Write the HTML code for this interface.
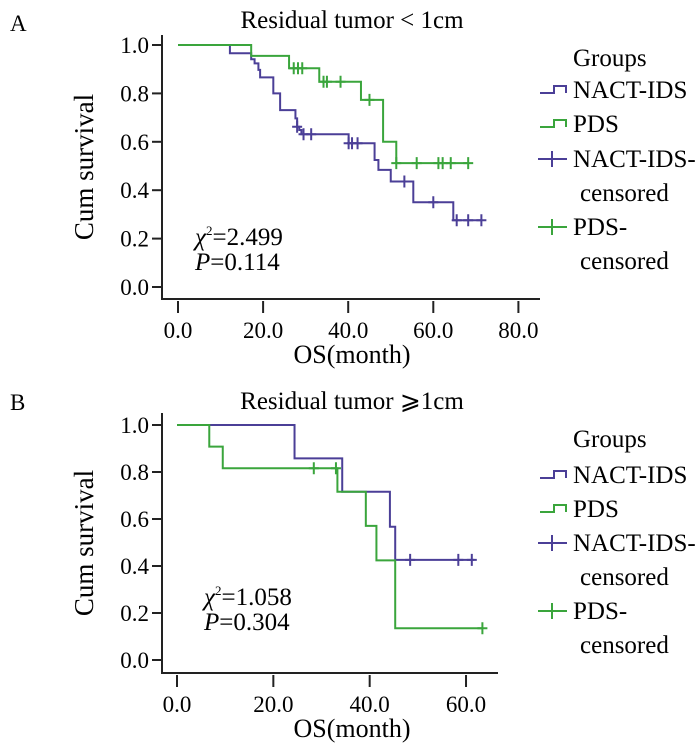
<!DOCTYPE html>
<html><head><meta charset="utf-8"><style>
html,body{margin:0;padding:0;background:#fff;}
svg{display:block;font-family:"Liberation Serif","Noto Serif CJK SC",serif;}
</style></head><body>
<svg id="svg" width="700" height="748" viewBox="0 0 700 748" xmlns="http://www.w3.org/2000/svg">
<g id="panelA"></g>
<g id="panelB"></g>
</svg>
<script>
// Panel A data (months, survival)
const axTicksA = [0, 20, 40, 60, 80];
const aTickLabels = ["0.0", "20.0", "40.0", "60.0", "80.0"];
const yTicks = [0, 0.2, 0.4, 0.6, 0.8, 1.0];
const yTickLabels = ["0.0", "0.2", "0.4", "0.6", "0.8", "1.0"];
const aNactTimes = [0, 12.2, 17.2, 18.0, 18.9, 19.3, 22.4, 24.0, 27.6, 28.0, 28.5, 29.0, 40.1, 46.2, 47.1, 50.0, 55.3, 64.7];
const aNactSurv  = [1.0, 0.966, 0.941, 0.924, 0.897, 0.866, 0.80, 0.731, 0.697, 0.662, 0.649, 0.631, 0.594, 0.525, 0.484, 0.436, 0.35, 0.276];
const aNactEnd = 71.3;
const aNactCensT = [28.0, 29.5, 31.3, 40.1, 40.9, 42.2, 53.2, 60.0, 65.5, 68.2, 71.3];
const aPdsTimes = [0, 17.2, 26.1, 33.2, 43.0, 48.2, 51.3];
const aPdsSurv  = [1.0, 0.955, 0.904, 0.848, 0.773, 0.60, 0.512];
const aPdsEnd = 68.2;
const aPdsCensT = [27.2, 28.2, 29.2, 34.2, 35.0, 38.2, 45.0, 51.3, 56.1, 61.2, 62.2, 64.1, 68.2];
// Panel B data
const bxTicks = [0, 20, 40, 60];
const bTickLabels = ["0.0", "20.0", "40.0", "60.0"];
const bNactTimes = [0, 24.4, 34.3, 44.2, 45.3];
const bNactSurv  = [1.0, 0.858, 0.716, 0.567, 0.426];
const bNactEnd = 61.7;
const bNactCensT = [48.4, 58.4, 61.2];
const bPdsTimes = [0, 6.7, 9.5, 33.3, 39.2, 41.4, 45.3];
const bPdsSurv  = [1.0, 0.908, 0.816, 0.716, 0.571, 0.424, 0.135];
const bPdsEnd = 63.4;
const bPdsCensT = [28.4, 33.0, 63.4];

const NS = "http://www.w3.org/2000/svg";
const BLUE = "#4b3f97", GREEN = "#3aa53c";
function mk(parent, tag, attrs, text){
  const e = document.createElementNS(NS, tag);
  for (const k in attrs) e.setAttribute(k, attrs[k]);
  if (text !== undefined) e.textContent = text;
  parent.appendChild(e);
  return e;
}
function survAt(times, surv, t){
  let s = surv[0];
  for (let i = 0; i < times.length; i++) if (times[i] <= t) s = surv[i];
  return s;
}
function panel(g, cfg){
  const X = v => cfg.x0 + v * cfg.xs;
  const Y = v => cfg.y0 - v * cfg.ys;
  let t = mk(g, "text", {x: 10, y: cfg.letterY, "font-size": 23});
  t.textContent = cfg.letter;
  
  
  t = mk(g, "text", {x: 352, y: cfg.titleY, "font-size": 25, "text-anchor": "middle"}, cfg.title);
  
  
  let a = mk(g, "path", {d: `M${cfg.axX},${cfg.axTop} V${cfg.axY} H${cfg.axRight}`, fill: "none", stroke: "#222", "stroke-width": 2});
  
  
  yTicks.forEach((v, i) => {
    const tk = mk(g, "line", {x1: cfg.axX - 10, x2: cfg.axX, y1: Y(v), y2: Y(v), stroke: "#222", "stroke-width": 2});
    
    
    const lb = mk(g, "text", {x: cfg.axX - 13, y: Y(v) + 8, "font-size": 23, "text-anchor": "end"}, yTickLabels[i]);
    
    
  });
  cfg.xt.forEach((v, i) => {
    const tk = mk(g, "line", {x1: X(v), x2: X(v), y1: cfg.axY + 2, y2: cfg.axY + 14, stroke: "#222", "stroke-width": 2});
    
    
    const lb = mk(g, "text", {x: X(v), y: cfg.axY + 39, "font-size": 23, "text-anchor": "middle"}, cfg.xl[i]);
    
    
  });
  t = mk(g, "text", {x: 352, y: cfg.axY + 64, "font-size": 26, "text-anchor": "middle"}, "OS(month)");
  
  
  const cy = (cfg.axTop + cfg.axY) / 2;
  t = mk(g, "text", {x: 0, y: 0, "font-size": 27, "text-anchor": "middle", transform: `translate(93,${cy}) rotate(-90)`}, "Cum survival");
  
  
  t = mk(g, "text", {x: cfg.statX, y: cfg.statY, "font-size": 25});
  t.innerHTML = '<tspan font-style="italic">χ</tspan><tspan font-size="13" dy="-10">2</tspan><tspan dy="10">=' + cfg.chi + '</tspan>';
  
  
  t = mk(g, "text", {x: cfg.statX, y: cfg.statY + 25, "font-size": 25});
  t.innerHTML = '<tspan font-style="italic">P</tspan>=' + cfg.p;
  
  
  cfg.series.forEach(s => {
    let d = `M${X(s.times[0])},${Y(s.surv[0])}`;
    for (let i = 1; i < s.times.length; i++) d += ` H${X(s.times[i])} V${Y(s.surv[i])}`;
    d += ` H${X(s.end)}`;
    const p = mk(g, "path", {d, fill: "none", stroke: s.color, "stroke-width": 2});
    
    
    s.cens.forEach(ct => {
      const yy = Y(survAt(s.times, s.surv, ct)), xx = X(ct);
      const c = mk(g, "path", {d: `M${xx},${yy - 6} V${yy + 6} M${xx - 5},${yy} H${xx + 5}`, stroke: s.color, "stroke-width": 2});
      
      
    });
  });
  const L = cfg.leg;
  const lg = mk(g, "g", {});
  
  
  mk(lg, "text", {x: 573, y: L[0], "font-size": 25}, "Groups");
  const items = [
    {y: L[1], txt: "NACT-IDS", c: BLUE, kind: "step"},
    {y: L[2], txt: "PDS", c: GREEN, kind: "step"},
    {y: L[3], txt: "NACT-IDS-", c: BLUE, kind: "plus"},
    {y: L[5], txt: "PDS-", c: GREEN, kind: "plus"}
  ];
  items.forEach(it => {
    const e = mk(lg, "g", {});
    
    
    const my = it.y - 8;
    if (it.kind === "step") mk(e, "path", {d: `M540,${my + 3} H554 V${my - 4} H566 V${my + 3}`, fill: "none", stroke: it.c, "stroke-width": 2});
    else mk(e, "path", {d: `M538,${my} H567 M552,${my - 8} V${my + 8}`, stroke: it.c, "stroke-width": 2});
    mk(e, "text", {x: 573, y: it.y, "font-size": 25}, it.txt);
  });
  mk(lg, "text", {x: 580, y: L[4], "font-size": 25}, "censored");
  mk(lg, "text", {x: 580, y: L[6], "font-size": 25}, "censored");
}
panel(document.getElementById("panelA"), {
  letter: "A", letterY: 31, title: "Residual tumor < 1cm", titleY: 28,
  x0: 178, xs: 4.255, y0: 287, ys: 242, axX: 162, axY: 299, axTop: 35, axRight: 540,
  xt: axTicksA, xl: aTickLabels, chi: "2.499", p: "0.114", statX: 195, statY: 245,
  series: [
    {name: "nact-ids", times: aNactTimes, surv: aNactSurv, end: aNactEnd, cens: aNactCensT, color: BLUE},
    {name: "pds", times: aPdsTimes, surv: aPdsSurv, end: aPdsEnd, cens: aPdsCensT, color: GREEN}
  ],
  leg: [66, 98, 132, 167, 201, 235, 269]
});
panel(document.getElementById("panelB"), {
  letter: "B", letterY: 410, title: "Residual tumor ⩾1cm", titleY: 409,
  x0: 177, xs: 4.817, y0: 660, ys: 235, axX: 162, axY: 673, axTop: 413, axRight: 498,
  xt: bxTicks, xl: bTickLabels, chi: "1.058", p: "0.304", statX: 204, statY: 605,
  series: [
    {name: "nact-ids", times: bNactTimes, surv: bNactSurv, end: bNactEnd, cens: bNactCensT, color: BLUE},
    {name: "pds", times: bPdsTimes, surv: bPdsSurv, end: bPdsEnd, cens: bPdsCensT, color: GREEN}
  ],
  leg: [447, 483, 517, 551, 585, 619, 653]
});
</script>
</body></html>
